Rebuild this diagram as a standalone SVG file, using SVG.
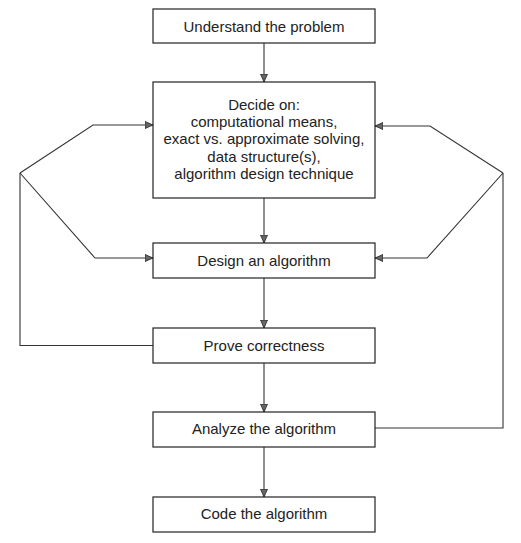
<svg xmlns="http://www.w3.org/2000/svg" width="521" height="543" viewBox="0 0 521 543">
<style>
.box{fill:#fff;stroke:#222;stroke-width:1.2}
.t{font-family:"Liberation Sans",Arial,sans-serif;font-size:15px;fill:#222;text-anchor:middle}
.c{fill:none;stroke:#333;stroke-width:1.1}
</style>
<defs>
<marker id="ah" viewBox="0 0 8 8" refX="8" refY="4" markerWidth="8" markerHeight="8" markerUnits="userSpaceOnUse" orient="auto">
<path d="M0,0.5 L8,4 L0,7.5 Z" fill="#666" stroke="#222" stroke-width="0.8"/>
</marker>
</defs>
<rect width="521" height="543" fill="#fff"/>
<g id="connectors">
<line class="c" x1="264" y1="43" x2="264" y2="82" marker-end="url(#ah)"/>
<line class="c" x1="264" y1="198" x2="264" y2="243" marker-end="url(#ah)"/>
<line class="c" x1="264" y1="278" x2="264" y2="328" marker-end="url(#ah)"/>
<line class="c" x1="264" y1="363" x2="264" y2="412" marker-end="url(#ah)"/>
<line class="c" x1="264" y1="447" x2="264" y2="497" marker-end="url(#ah)"/>
<polyline class="c" points="153,345.5 20,345.5 20,173"/>
<polyline class="c" points="20,173 93,125 153,125" marker-end="url(#ah)"/>
<polyline class="c" points="20,173 95,258 153,258" marker-end="url(#ah)"/>
<polyline class="c" points="375,428 503,428 503,173"/>
<polyline class="c" points="503,173 430,126 375,126" marker-end="url(#ah)"/>
<polyline class="c" points="503,173 427,258 375,258" marker-end="url(#ah)"/>
</g>
<g id="understand">
<rect class="box" x="153" y="9" width="222" height="34"/>
<text class="t" x="264" y="31.5">Understand the problem</text>
</g>
<g id="decide">
<rect class="box" x="153" y="82" width="222" height="116"/>
<text class="t" x="264" y="110">Decide on:</text>
<text class="t" x="264" y="127">computational means,</text>
<text class="t" x="264" y="144.3">exact vs. approximate solving,</text>
<text class="t" x="264" y="161.6">data structure(s),</text>
<text class="t" x="264" y="179">algorithm design technique</text>
</g>
<g id="design">
<rect class="box" x="153" y="243" width="222" height="35"/>
<text class="t" x="264" y="265.5">Design an algorithm</text>
</g>
<g id="prove">
<rect class="box" x="153" y="328" width="222" height="35"/>
<text class="t" x="264" y="350.5">Prove correctness</text>
</g>
<g id="analyze">
<rect class="box" x="153" y="412" width="222" height="35"/>
<text class="t" x="264" y="434">Analyze the algorithm</text>
</g>
<g id="code">
<rect class="box" x="153" y="497" width="222" height="35"/>
<text class="t" x="264" y="519">Code the algorithm</text>
</g>
</svg>
